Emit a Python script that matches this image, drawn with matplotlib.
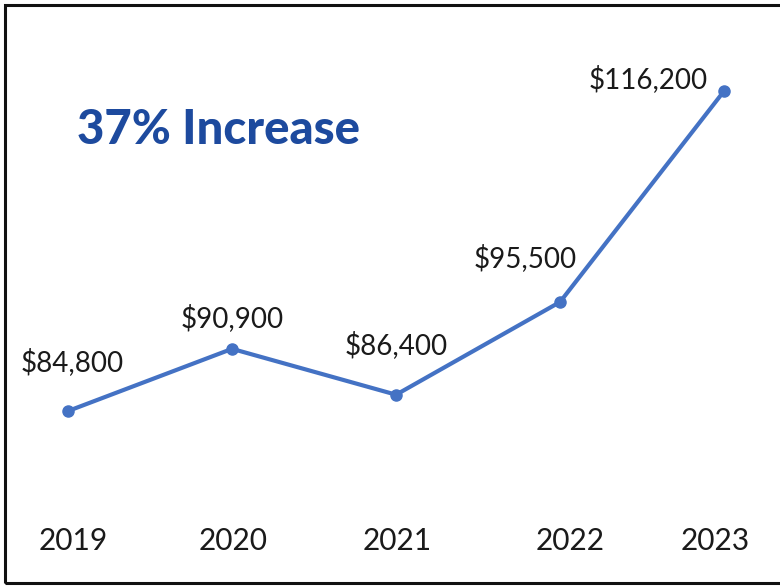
import matplotlib
matplotlib.use("Agg")
import matplotlib.pyplot as plt
from matplotlib.patches import Rectangle

years = [2019, 2020, 2021, 2022, 2023]
salary = [84800, 90900, 86400, 95500, 116200]
value_labels = ["$84,800", "$90,900", "$86,400", "$95,500", "$116,200"]
headline = "37% Increase"

line_color = "#4472C4"
title_color = "#1D4A9E"

plt.rcParams['font.family'] = ['Lato', 'DejaVu Sans']

fig = plt.figure(figsize=(7.8, 5.86), dpi=100)
ax = fig.add_axes([0, 0, 1, 1])
ax.set_xlim(2018.585, 2023.341)
ax.set_ylim(67630, 125130)
ax.axis('off')

ax.plot(years, salary, color=line_color, linewidth=3, marker='o', markersize=8,
        solid_capstyle='round')

# value labels sit above each point (last one to the left)
offsets = [(4, 49), (0, 31), (0, 50), (-35, 44), (-76, 12)]
for x, y, lab, (dx, dy) in zip(years, salary, value_labels, offsets):
    ax.annotate(lab, (x, y), xytext=(dx, dy), textcoords='offset pixels',
                ha='center', va='center', fontsize=20, color='#1a1a1a')

# year labels along the bottom
year_x = [73, 233, 397, 570, 715]
for yr, px in zip(years, year_x):
    fig.text(px / 780, 1 - 541 / 586, str(yr), ha='center', va='center',
             fontsize=21.5, color='#1a1a1a')

fig.text(77 / 780, 1 - 130 / 586, headline, ha='left', va='center',
         fontsize=34, fontweight='black', color=title_color)

# frame, open on the right side
fig.patches.append(Rectangle((5 / 780, 3 / 586), 1.2, 578 / 586,
                             transform=fig.transFigure, fill=False,
                             edgecolor='#111111', linewidth=2.2))

fig.savefig("out.png", dpi=100)
